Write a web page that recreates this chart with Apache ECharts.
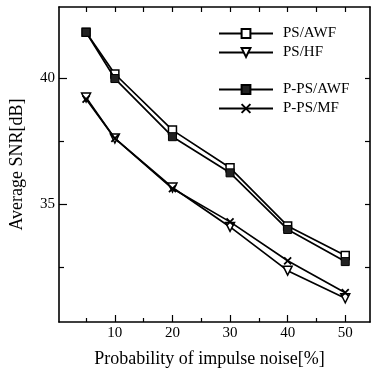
<!DOCTYPE html>
<html>
<head>
<meta charset="utf-8">
<script src="https://cdn.jsdelivr.net/npm/echarts@6/dist/echarts.min.js"></script>
<style>html,body{margin:0;padding:0;background:#fff}#c{width:372px;height:373px}</style>
</head>
<body>
<div id="c"></div>
<script>
const xValues = [5, 10, 20, 30, 40, 50];
const psAwf  = [41.8, 40.15, 37.93, 36.44, 34.14, 32.97];
const psHf   = [39.22, 37.6, 35.66, 34.1, 32.37, 31.28];
const ppsAwf = [41.8, 39.97, 37.67, 36.24, 34.0, 32.73];
const ppsMf  = [39.16, 37.6, 35.62, 34.3, 32.76, 31.5];
const xMajorTicks = [10, 20, 30, 40, 50];
const xMinorTicks = [5, 15, 25, 35, 45];
const yMajorTicks = [35, 40];
const yMinorTicks = [32.5, 37.5];

const FONT = '"Liberation Serif", "DejaVu Serif", serif';
const X_MIN = 0.3, X_MAX = 54.3, Y_MIN = 30.34, Y_MAX = 42.8;
const lineC = '#000';

function pairs(ys) { return xValues.map((x, i) => [x, ys[i]]); }

const chart = echarts.init(document.getElementById('c'), null, {renderer: 'canvas'});
const baseX = {type: 'value', min: X_MIN, max: X_MAX, splitLine: {show: false}};
const baseY = {type: 'value', min: Y_MIN, max: Y_MAX, splitLine: {show: false}};

const option = {
  backgroundColor: '#fff',
  animation: false,
  grid: {left: 57, top: 7, right: 2, bottom: 51},
  xAxis: [
    Object.assign({}, baseX, {
      position: 'bottom',
      name: 'Probability of impulse noise[%]',
      nameLocation: 'middle', nameGap: 28,
      nameTextStyle: {fontFamily: FONT, fontSize: 18, color: '#000', padding: [0, 10, 0, 0]},
      axisLine: {show: true, lineStyle: {color: lineC, width: 1.6}},
      axisTick: {show: true, inside: true, length: 7, customValues: xMajorTicks, lineStyle: {color: lineC, width: 1.2}},
      axisLabel: {show: true, customValues: xMajorTicks, margin: 4, fontFamily: FONT, fontSize: 15, color: '#000'}
    }),
    Object.assign({}, baseX, {
      position: 'bottom',
      axisLine: {show: false},
      axisTick: {show: true, inside: true, length: 4, customValues: xMinorTicks, lineStyle: {color: lineC, width: 1.2}},
      axisLabel: {show: false}
    }),
    Object.assign({}, baseX, {
      position: 'top',
      axisLine: {show: true, lineStyle: {color: lineC, width: 1.6}},
      axisTick: {show: true, inside: true, length: 5, customValues: xMinorTicks.concat(xMajorTicks), lineStyle: {color: lineC, width: 1.2}},
      axisLabel: {show: false}
    })
  ],
  yAxis: [
    Object.assign({}, baseY, {
      position: 'left',
      name: 'Average SNR[dB]',
      nameLocation: 'middle', nameGap: 33,
      nameTextStyle: {fontFamily: FONT, fontSize: 18, color: '#000'},
      axisLine: {show: true, lineStyle: {color: lineC, width: 1.6}},
      axisTick: {show: true, inside: true, length: 8, customValues: yMajorTicks, lineStyle: {color: lineC, width: 1.2}},
      axisLabel: {show: true, customValues: yMajorTicks, margin: 4, fontFamily: FONT, fontSize: 15, color: '#000'}
    }),
    Object.assign({}, baseY, {
      position: 'left',
      axisLine: {show: false},
      axisTick: {show: true, inside: true, length: 5, customValues: yMinorTicks, lineStyle: {color: lineC, width: 1.2}},
      axisLabel: {show: false}
    }),
    Object.assign({}, baseY, {
      position: 'right',
      axisLine: {show: true, lineStyle: {color: lineC, width: 1.6}},
      axisTick: {show: true, inside: true, length: 5, customValues: yMinorTicks.concat(yMajorTicks), lineStyle: {color: lineC, width: 1.2}},
      axisLabel: {show: false}
    })
  ],
  legend: [
    {
      orient: 'vertical', left: 218, top: 26, padding: 0, itemWidth: 54, itemHeight: 11, itemGap: 4,
      textStyle: {fontFamily: FONT, fontSize: 15, color: '#000', padding: [0, 0, 0, 5]},
      data: ['PS/AWF', 'PS/HF']
    },
    {
      orient: 'vertical', left: 218, top: 82, padding: 0, itemWidth: 54, itemHeight: 11, itemGap: 4,
      textStyle: {fontFamily: FONT, fontSize: 15, color: '#000', padding: [0, 0, 0, 5]},
      data: ['P-PS/AWF', 'P-PS/MF']
    }
  ],
  series: [
    {
      name: 'PS/AWF', type: 'line', data: pairs(psAwf),
      symbol: 'rect', symbolSize: 8,
      lineStyle: {color: '#000', width: 1.7},
      itemStyle: {color: '#fff', borderColor: '#000', borderWidth: 1.5},
      z: 3
    },
    {
      name: 'PS/HF', type: 'line', data: pairs(psHf),
      symbol: 'triangle', symbolRotate: 180, symbolSize: 9,
      lineStyle: {color: '#000', width: 1.7},
      itemStyle: {color: '#fff', borderColor: '#000', borderWidth: 1.5},
      z: 3
    },
    {
      name: 'P-PS/AWF', type: 'line', data: pairs(ppsAwf),
      symbol: 'rect', symbolSize: 8,
      lineStyle: {color: '#000', width: 1.7},
      itemStyle: {color: '#222', borderColor: '#000', borderWidth: 1},
      z: 4
    },
    {
      name: 'P-PS/MF', type: 'line', data: pairs(ppsMf),
      symbol: 'path://M0,0L10,10M10,0L0,10', symbolSize: 7,
      lineStyle: {color: '#000', width: 1.7},
      itemStyle: {color: 'none', borderColor: '#000', borderWidth: 1.8},
      z: 4
    }
  ]
};
chart.setOption(option);
</script>
</body>
</html>
